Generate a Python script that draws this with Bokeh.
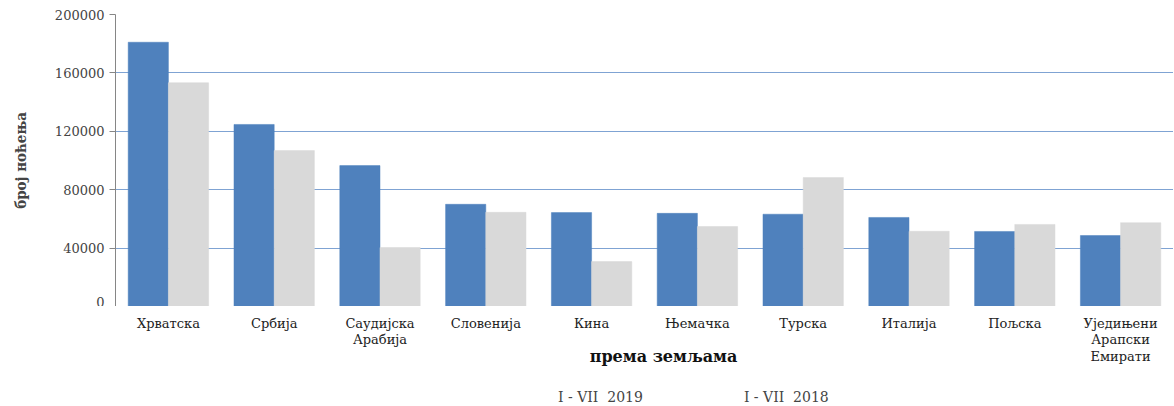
from bokeh.plotting import figure
from bokeh.layouts import column
from bokeh.models import (ColumnDataSource, FactorRange, Legend, LegendItem, Range1d,
                          FixedTicker, NumeralTickFormatter, Span)
from bokeh.core.properties import value
from bokeh.transform import dodge
from bokeh.embed import file_html
from bokeh.resources import INLINE

countries = ["Хрватска", "Србија", "Саудијска\nАрабија", "Словенија", "Кина",
             "Њемачка", "Турска", "Италија", "Пољска", "Уједињени\nАрапски\nЕмирати"]
y2019 = [181000, 124700, 96500, 70000, 64300, 63800, 63200, 61000, 51400, 48600]
y2018 = [153300, 106800, 40400, 64500, 30800, 54800, 88300, 51500, 56200, 57400]
series_names = ["I - VII  2019", "I - VII  2018"]
yticks = [0, 40000, 80000, 120000, 160000, 200000]
x_title = "према земљама"
y_title = "број ноћења"

BLUE = "#4F81BD"
GRAY = "#D9D9D9"
SERIF = "DejaVu Serif"

src = ColumnDataSource(dict(c=countries, a=y2019, b=y2018))

# ---- main chart ----
p = figure(x_range=FactorRange(*countries, range_padding=0), y_range=Range1d(0, 200000),
           frame_width=1058, frame_height=292, output_backend="svg", toolbar_location=None,
           min_border_left=115, min_border_right=0, min_border_top=14, min_border_bottom=0)
p.outline_line_color = None

p.vbar(x=dodge("c", -0.19, range=p.x_range), top="a", width=0.38, source=src,
       fill_color=BLUE, line_color=BLUE, line_width=0.5)
p.vbar(x=dodge("c", 0.19, range=p.x_range), top="b", width=0.38, source=src,
       fill_color=GRAY, line_color=GRAY, line_width=0.5)

p.xaxis.visible = False
p.xgrid.grid_line_color = None
p.ygrid.grid_line_color = "#7FA3D3"
p.ygrid.grid_line_width = 1
p.add_layout(Span(location=0, dimension="width", line_color="#868686", line_width=1.2))

p.yaxis.ticker = FixedTicker(ticks=yticks)
p.yaxis.formatter = NumeralTickFormatter(format="0")
p.yaxis.axis_label = y_title
p.yaxis.axis_label_text_font = "DejaVu Serif Condensed"
p.yaxis.axis_label_text_font_style = "bold"
p.yaxis.axis_label_text_font_size = "15px"
p.yaxis.axis_label_standoff = 22
p.yaxis.major_label_text_font = SERIF
p.yaxis.major_label_text_font_size = "13px"
p.yaxis.axis_line_color = "#868686"
p.yaxis.major_tick_line_color = "#868686"
p.yaxis.major_tick_out = 6
p.yaxis.major_tick_in = 0
p.yaxis.minor_tick_line_color = None

# ---- bottom strip: category labels, axis title, legend ----
q = figure(x_range=Range1d(0, len(countries)), y_range=Range1d(99, 0),
           frame_width=1058, frame_height=99, output_backend="svg", toolbar_location=None,
           min_border_left=115, min_border_right=0, min_border_top=0, min_border_bottom=0,
           x_axis_location=None, y_axis_location=None)
q.outline_line_color = None
q.xgrid.visible = False
q.ygrid.visible = False

lab_src = ColumnDataSource(dict(x=[i + 0.5 for i in range(len(countries))],
                                y=[9] * len(countries), t=countries))
q.text(x="x", y="y", text="t", source=lab_src, text_align="center", text_baseline="top",
       text_font=value(SERIF), text_font_size="13px", text_color="#222222",
       text_line_height=1.12)
q.text(x=[5.18], y=[50], text=[x_title], text_align="center", text_baseline="middle",
       text_font=value(SERIF), text_font_size="16px", text_font_style="bold",
       text_color="#111111")

d1 = q.vbar(x=[], top=[], width=0.1, fill_color=BLUE, line_color=BLUE)
d2 = q.vbar(x=[], top=[], width=0.1, fill_color=GRAY, line_color=GRAY)
legend = Legend(items=[LegendItem(label=series_names[0], renderers=[d1]),
                       LegendItem(label=series_names[1], renderers=[d2])],
                orientation="horizontal", location=(429, 0),
                label_text_font=SERIF, label_text_font_size="14px",
                glyph_width=9, glyph_height=9, label_standoff=5, spacing=87,
                border_line_color=None, background_fill_alpha=0, margin=0, padding=0)
q.add_layout(legend, "center")

open("out.html", "w").write(file_html(column(p, q, spacing=0), INLINE))
